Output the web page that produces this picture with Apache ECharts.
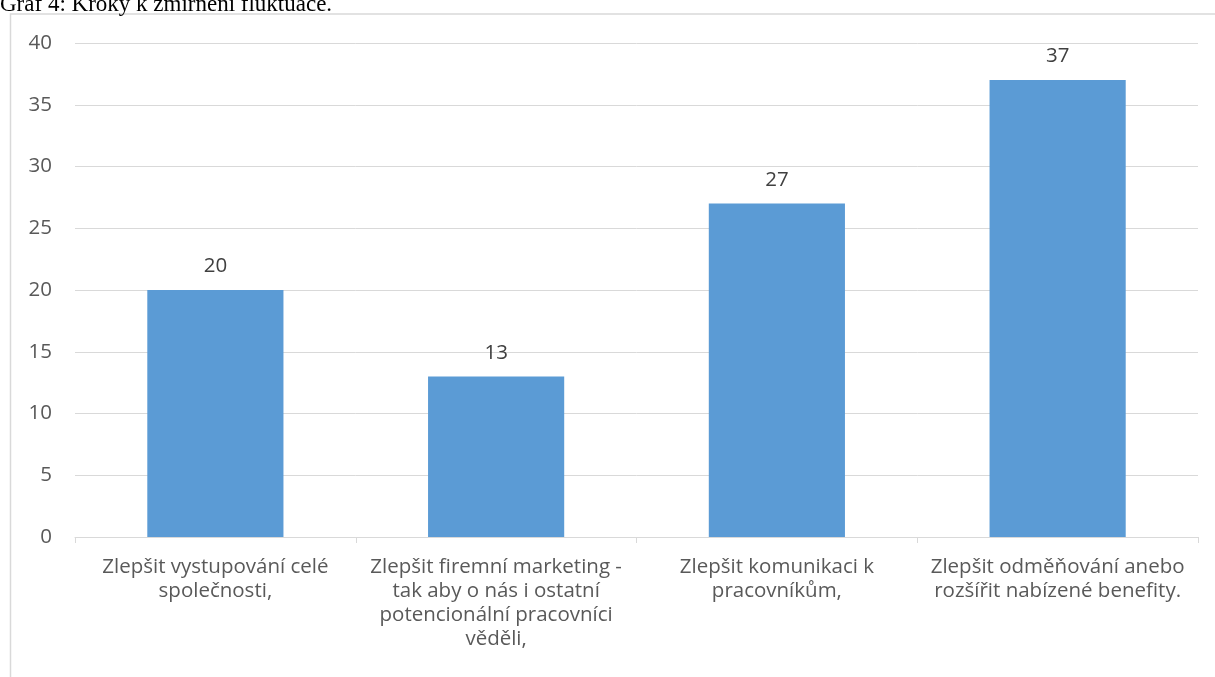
<!DOCTYPE html>
<html>
<head>
<meta charset="utf-8">
<script src="https://cdn.jsdelivr.net/npm/echarts@6/dist/echarts.min.js"></script>
<style>
  html, body { margin: 0; padding: 0; background: #ffffff; }
  #chart { width: 1215px; height: 677px; }
</style>
</head>
<body>
<div id="chart"></div>
<script>
// Steps to reduce employee turnover — number of responses per option
const titleText = 'Graf 4: Kroky k zmírnění fluktuace.';
const categories = [
  'Zlepšit vystupování celé\nspolečnosti,',
  'Zlepšit firemní marketing -\ntak aby o nás i ostatní\npotencionální pracovníci\nvěděli,',
  'Zlepšit komunikaci k\npracovníkům,',
  'Zlepšit odměňování anebo\nrozšířit nabízené benefity.'
];
const responses = [20, 13, 27, 37];
const yTicks = { min: 0, max: 40, interval: 5 };

const textColor = '#595959';
const lineColor = '#d9d9d9';
const font = '"Open Sans", "Noto Sans", sans-serif';
const fontSize = 20.5;

const chart = echarts.init(document.getElementById('chart'), null, { renderer: 'canvas' });
chart.setOption({
  backgroundColor: '#ffffff',
  animation: false,
  graphic: [
    {
      // chart frame; its right and bottom edges run past the page
      type: 'rect',
      shape: { x: 10.5, y: 14, width: 1220, height: 700 },
      style: { fill: 'none', stroke: lineColor, lineWidth: 1.5 },
      z: 0
    },
    {
      // caption line above the frame
      type: 'text',
      x: 0,
      y: -6.5,
      style: {
        text: titleText,
        font: '23px "Liberation Serif", "Times New Roman", serif',
        fill: '#000000',
        verticalAlign: 'top'
      },
      z: 10
    }
  ],
  grid: { left: 75, right: 17, top: 43, bottom: 140, containLabel: false },
  xAxis: {
    type: 'category',
    data: categories,
    axisLine: { show: true, lineStyle: { color: lineColor, width: 1 } },
    axisTick: { show: true, length: 6, lineStyle: { color: lineColor } },
    axisLabel: {
      interval: 0,
      margin: 18,
      color: textColor,
      fontFamily: font,
      fontSize: fontSize,
      lineHeight: 24,
      align: 'center'
    },
    splitLine: { show: false }
  },
  yAxis: {
    type: 'value',
    min: yTicks.min,
    max: yTicks.max,
    interval: yTicks.interval,
    axisLine: { show: false },
    axisTick: { show: false },
    axisLabel: { color: textColor, fontFamily: font, fontSize: fontSize, margin: 23 },
    splitLine: { lineStyle: { color: lineColor, width: 1 } }
  },
  series: [{
    type: 'bar',
    data: responses,
    barWidth: '48.5%',
    itemStyle: { color: '#5b9bd5' },
    label: {
      show: true,
      position: 'top',
      distance: 13,
      color: '#404040',
      fontFamily: font,
      fontSize: fontSize
    }
  }]
});
</script>
</body>
</html>
